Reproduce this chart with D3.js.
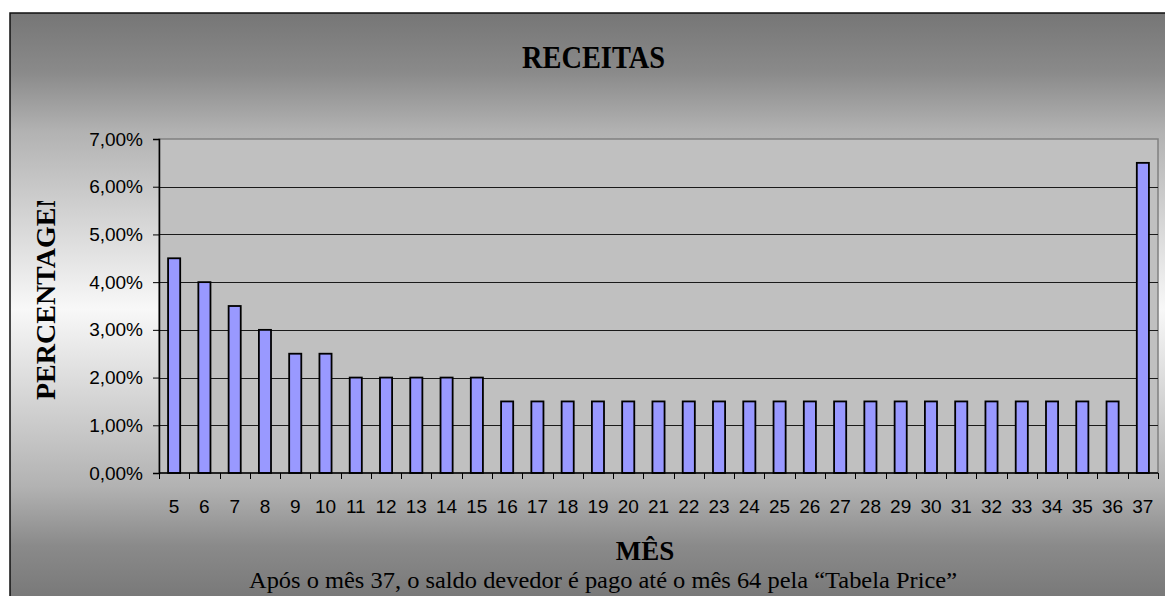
<!DOCTYPE html>
<html>
<head>
<meta charset="utf-8">
<script src="https://cdn.jsdelivr.net/npm/d3@7/dist/d3.min.js"></script>
<style>
  html, body { margin: 0; padding: 0; background: #ffffff; }
  svg { display: block; }
</style>
</head>
<body>
<svg id="chart" width="1165" height="596"></svg>
<script>
// Monthly revenue share (% of total) for months 5 to 37
const months = [5, 6, 7, 8, 9, 10, 11, 12, 13, 14, 15, 16, 17, 18, 19, 20, 21,
  22, 23, 24, 25, 26, 27, 28, 29, 30, 31, 32, 33, 34, 35, 36, 37];
const percentages = [4.5, 4.0, 3.5, 3.0, 2.5, 2.5, 2.0, 2.0, 2.0, 2.0, 2.0,
  1.5, 1.5, 1.5, 1.5, 1.5, 1.5, 1.5, 1.5, 1.5, 1.5, 1.5, 1.5, 1.5, 1.5, 1.5,
  1.5, 1.5, 1.5, 1.5, 1.5, 1.5, 6.5];
const yTicks = [0, 1, 2, 3, 4, 5, 6, 7];

const titleText = "RECEITAS";
const xTitleText = "MÊS";
const yTitleText = "PERCENTAGEM";
const noteText = "Após o mês 37, o saldo devedor é pago até o mês 64 pela “Tabela Price”";

const svg = d3.select("#chart");

// Chart-area background: grey-to-white-to-grey vertical gradient
const defs = svg.append("defs");
const grad = defs.append("linearGradient")
  .attr("id", "bgGrad").attr("x1", 0).attr("y1", 0).attr("x2", 0).attr("y2", 1);
[[0, "#767676"], [0.1, "#8a8a8a"], [0.2, "#b2b2b2"], [0.5, "#f8f8f8"],
 [0.8, "#b2b2b2"], [0.9, "#8a8a8a"], [1, "#767676"]].forEach(([o, c]) =>
  grad.append("stop").attr("offset", o).attr("stop-color", c));

// Chart frame continues past the right and bottom edges of the page
svg.append("rect")
  .attr("x", 10).attr("y", 13).attr("width", 1180).attr("height", 592)
  .attr("fill", "url(#bgGrad)")
  .attr("stroke", "#111").attr("stroke-width", 1.5);

// Plot area
const plot = { left: 159, right: 1158, top: 139, bottom: 473 };

const x = d3.scaleBand()
  .domain(months)
  .range([plot.left, plot.right])
  .paddingInner(0.6)
  .paddingOuter(0.3);

const y = d3.scaleLinear()
  .domain([0, 7])
  .range([plot.bottom, plot.top]);

svg.append("rect")
  .attr("x", plot.left).attr("y", plot.top)
  .attr("width", plot.right - plot.left).attr("height", plot.bottom - plot.top)
  .attr("fill", "#c0c0c0")
  .attr("stroke", "#808080").attr("stroke-width", 1.5);

// Horizontal gridlines
svg.append("g")
  .selectAll("line")
  .data(yTicks.filter(t => t > 0 && t < 7))
  .join("line")
  .attr("x1", plot.left).attr("x2", plot.right)
  .attr("y1", d => Math.round(y(d)) + 0.5).attr("y2", d => Math.round(y(d)) + 0.5)
  .attr("stroke", "#1a1a1a").attr("stroke-width", 1);

// Bars
svg.append("g")
  .selectAll("rect")
  .data(months.map((m, i) => ({ m, v: percentages[i] })))
  .join("rect")
  .attr("x", d => x(d.m))
  .attr("y", d => y(d.v))
  .attr("width", x.bandwidth())
  .attr("height", d => y(0) - y(d.v))
  .attr("fill", "#9999ff")
  .attr("stroke", "#000")
  .attr("stroke-width", 1.8);

// Y axis
const fmt = d => d3.format(".2f")(d).replace(".", ",") + "%";
const yAxis = svg.append("g")
  .attr("transform", `translate(${plot.left},0)`)
  .call(d3.axisLeft(y).tickValues(yTicks).tickFormat(fmt).tickSize(6).tickPadding(10));
yAxis.select(".domain").attr("stroke", "#000").attr("stroke-width", 1.5);
yAxis.selectAll(".tick line").attr("stroke", "#000");
yAxis.selectAll(".tick text")
  .attr("font-family", "'Liberation Sans', Arial, sans-serif")
  .attr("font-size", 19).attr("fill", "#000");

// X axis: line, ticks at category boundaries, labels under each bar
const xAxis = svg.append("g");
xAxis.append("line")
  .attr("x1", plot.left).attr("x2", plot.right)
  .attr("y1", plot.bottom).attr("y2", plot.bottom)
  .attr("stroke", "#000").attr("stroke-width", 1.5);
const boundaries = d3.range(months.length + 1).map(i => plot.left + i * x.step());
xAxis.selectAll("line.tick")
  .data(boundaries)
  .join("line").attr("class", "tick")
  .attr("x1", d => Math.round(d) + 0.5).attr("x2", d => Math.round(d) + 0.5)
  .attr("y1", plot.bottom).attr("y2", plot.bottom + 6)
  .attr("stroke", "#000");
xAxis.selectAll("text")
  .data(months)
  .join("text")
  .attr("x", d => x(d) + x.bandwidth() / 2)
  .attr("y", plot.bottom + 40)
  .attr("text-anchor", "middle")
  .attr("font-family", "'Liberation Sans', Arial, sans-serif")
  .attr("font-size", 19).attr("fill", "#000")
  .text(d => d);

// Titles
svg.append("text")
  .attr("x", 593.5).attr("y", 68)
  .attr("text-anchor", "middle")
  .attr("font-family", "'Liberation Serif', 'Times New Roman', serif")
  .attr("font-weight", "bold").attr("font-size", 31)
  .attr("textLength", 143).attr("lengthAdjust", "spacingAndGlyphs")
  .text(titleText);

svg.append("text")
  .attr("x", 645).attr("y", 560)
  .attr("text-anchor", "middle")
  .attr("font-family", "'Liberation Serif', 'Times New Roman', serif")
  .attr("font-weight", "bold").attr("font-size", 27)
  .text(xTitleText);

defs.append("clipPath").attr("id", "yTitleClip")
  .append("rect").attr("x", 0).attr("y", 201).attr("width", 120).attr("height", 300);

svg.append("g").attr("clip-path", "url(#yTitleClip)")
  .append("text")
  .attr("transform", "translate(55,400) rotate(-90)")
  .attr("text-anchor", "start")
  .attr("font-family", "'Liberation Serif', 'Times New Roman', serif")
  .attr("font-weight", "bold").attr("font-size", 28)
  .text(yTitleText);

svg.append("text")
  .attr("x", 603).attr("y", 588)
  .attr("text-anchor", "middle")
  .attr("font-family", "'Liberation Serif', 'Times New Roman', serif")
  .attr("font-size", 24)
  .attr("textLength", 708).attr("lengthAdjust", "spacingAndGlyphs")
  .text(noteText);
</script>
</body>
</html>
